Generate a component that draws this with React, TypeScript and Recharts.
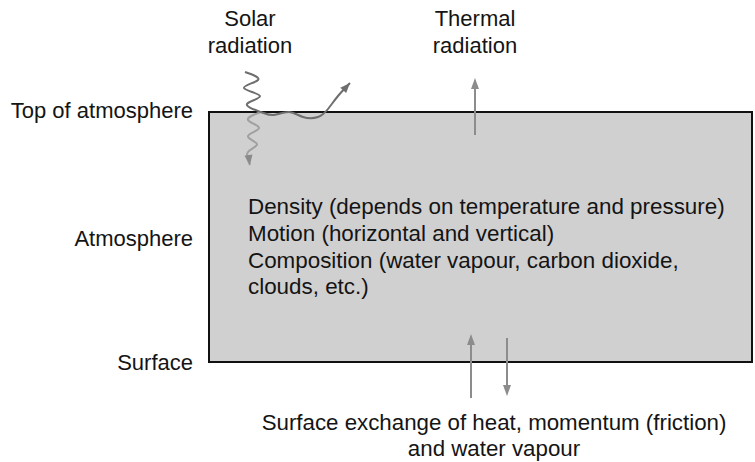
import React from 'react';
import { ComposedChart, XAxis, YAxis, Line, ReferenceArea, ReferenceLine, ReferenceDot } from 'recharts';

// Diagram coordinates (x: 0..755 left→right, y: 0..462 top→bottom)
const boxX = [209, 752];
const boxY = [112, 362];

const sideLabels = ['Top of atmosphere', 'Atmosphere', 'Surface'];
const sideLabelY = [118, 246, 370];
const sideLabelX = 193;

const bodyLines = [
  'Density (depends on temperature and pressure)',
  'Motion (horizontal and vertical)',
  'Composition (water vapour, carbon dioxide,',
  'clouds, etc.)',
];
const bodyLineY = [214, 241, 268, 294];
const bodyX = 248;

const solarLabel = ['Solar', 'radiation'];
const thermalLabel = ['Thermal', 'radiation'];
const topLabelY = [26, 53];
const solarLabelX = 250;
const thermalLabelX = 475;

const bottomLabel = ['Surface exchange of heat, momentum (friction)', 'and water vapour'];
const bottomLabelY = [430, 456];
const bottomLabelX = 494;

// Solar radiation: zigzag down, scattered along top and reflected upward
const solarReflected = [
  { x: 245, y: 72 },
  { x: 258, y: 80 },
  { x: 244, y: 88 },
  { x: 260, y: 96 },
  { x: 247, y: 104 },
  { x: 261, y: 112 },
  { x: 274, y: 115 },
  { x: 289, y: 112 },
  { x: 303, y: 117 },
  { x: 318, y: 117 },
  { x: 328, y: 109 },
  { x: 338, y: 96 },
  { x: 350, y: 83 },
];
const solarTransmitted = [
  { x: 261, y: 112 },
  { x: 248, y: 120 },
  { x: 259, y: 128 },
  { x: 248, y: 136 },
  { x: 257, y: 144 },
  { x: 248, y: 152 },
  { x: 250, y: 165 },
];

// straight arrows: [x1, y1, x2 (tip), y2 (tip)]
const thermalArrow = [475, 135, 475, 78];
const surfaceUpArrow = [471, 398, 471, 334];
const surfaceDownArrow = [507, 338, 507, 396];

const FONT = '"Liberation Sans", Arial, Helvetica, sans-serif';
const TEXT = '#141414';

const ArrowShape = (color: string, width: number) => (props: any) => {
  const { x1, y1, x2, y2 } = props;
  const dx = x2 - x1;
  const dy = y2 - y1;
  const len = Math.sqrt(dx * dx + dy * dy) || 1;
  const ux = dx / len;
  const uy = dy / len;
  const hl = 11;
  const hw = 4;
  const bx = x2 - ux * hl;
  const by = y2 - uy * hl;
  const pts = `${x2},${y2} ${bx - uy * hw},${by + ux * hw} ${bx + uy * hw},${by - ux * hw}`;
  return (
    <g>
      <line x1={x1} y1={y1} x2={bx} y2={by} stroke={color} strokeWidth={width} />
      <polygon points={pts} fill={color} />
    </g>
  );
};

const endArrowDot = (color: string) => (props: any) => {
  const { index, points, cx, cy } = props;
  if (!points || index !== points.length - 1) return <g key={`d${index}`} />;
  const prev = points[index - 1];
  const dx = cx - prev.x;
  const dy = cy - prev.y;
  const len = Math.sqrt(dx * dx + dy * dy) || 1;
  const ux = dx / len;
  const uy = dy / len;
  const hl = 10;
  const hw = 4;
  const bx = cx - ux * hl;
  const by = cy - uy * hl;
  const pts = `${cx},${cy} ${bx - uy * hw},${by + ux * hw} ${bx + uy * hw},${by - ux * hw}`;
  return <polygon key={`d${index}`} points={pts} fill={color} />;
};

const textShape = (text: string, anchor: 'start' | 'middle' | 'end', size: number) => (props: any) => (
  <text
    x={props.cx}
    y={props.cy}
    textAnchor={anchor}
    fontFamily={FONT}
    fontSize={size}
    fill={TEXT}
  >
    {text}
  </text>
);

export default function App() {
  return (
    <div style={{ position: 'absolute', left: 0, top: 0, width: 755, height: 462, background: '#fff' }}>
      <ComposedChart width={755} height={462} margin={{ top: 0, right: 0, bottom: 0, left: 0 }}>
        <XAxis type="number" dataKey="x" domain={[0, 755]} hide allowDataOverflow />
        <YAxis type="number" dataKey="y" domain={[0, 462]} reversed hide allowDataOverflow />

        <ReferenceArea
          x1={boxX[0]}
          x2={boxX[1]}
          y1={boxY[0]}
          y2={boxY[1]}
          fill="#d0d0d0"
          fillOpacity={1}
          stroke="#111"
          strokeWidth={2}
          ifOverflow="visible"
        />

        <Line
          data={solarTransmitted}
          dataKey="y"
          type="natural"
          stroke="#a0a0a0"
          strokeWidth={2}
          dot={endArrowDot('#8a8a8a')}
          activeDot={false}
          isAnimationActive={false}
        />
        <Line
          data={solarReflected}
          dataKey="y"
          type="natural"
          stroke="#6e6e6e"
          strokeWidth={2}
          dot={endArrowDot('#6e6e6e')}
          activeDot={false}
          isAnimationActive={false}
        />

        <ReferenceLine
          segment={[{ x: thermalArrow[0], y: thermalArrow[1] }, { x: thermalArrow[2], y: thermalArrow[3] }]}
          shape={ArrowShape('#8c8c8c', 2)}
          ifOverflow="visible"
        />
        <ReferenceLine
          segment={[{ x: surfaceUpArrow[0], y: surfaceUpArrow[1] }, { x: surfaceUpArrow[2], y: surfaceUpArrow[3] }]}
          shape={ArrowShape('#8c8c8c', 2)}
          ifOverflow="visible"
        />
        <ReferenceLine
          segment={[{ x: surfaceDownArrow[0], y: surfaceDownArrow[1] }, { x: surfaceDownArrow[2], y: surfaceDownArrow[3] }]}
          shape={ArrowShape('#8c8c8c', 2)}
          ifOverflow="visible"
        />

        {sideLabels.map((t, i) => (
          <ReferenceDot key={`s${i}`} x={sideLabelX} y={sideLabelY[i]} r={0} ifOverflow="visible" shape={textShape(t, 'end', 22)} />
        ))}
        {bodyLines.map((t, i) => (
          <ReferenceDot key={`b${i}`} x={bodyX} y={bodyLineY[i]} r={0} ifOverflow="visible" shape={textShape(t, 'start', 22.4)} />
        ))}
        {solarLabel.map((t, i) => (
          <ReferenceDot key={`sl${i}`} x={solarLabelX} y={topLabelY[i]} r={0} ifOverflow="visible" shape={textShape(t, 'middle', 22)} />
        ))}
        {thermalLabel.map((t, i) => (
          <ReferenceDot key={`tl${i}`} x={thermalLabelX} y={topLabelY[i]} r={0} ifOverflow="visible" shape={textShape(t, 'middle', 22)} />
        ))}
        {bottomLabel.map((t, i) => (
          <ReferenceDot key={`bl${i}`} x={bottomLabelX} y={bottomLabelY[i]} r={0} ifOverflow="visible" shape={textShape(t, 'middle', 22.3)} />
        ))}
      </ComposedChart>
    </div>
  );
}
